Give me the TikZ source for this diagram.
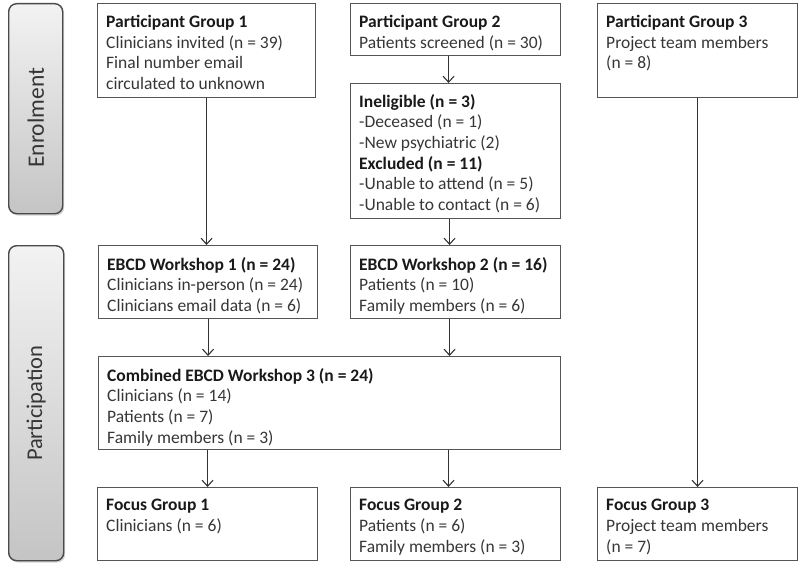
\documentclass[tikz,border=0pt]{standalone}
\usepackage{fontspec}
\setmainfont{Carlito}
\usetikzlibrary{arrows.meta,shadows}

\definecolor{edgegray}{HTML}{555555}
\definecolor{inkgray}{HTML}{363636}
\definecolor{barline}{HTML}{4A4A4A}

\tikzset{
  panel/.style={draw=edgegray, line width=1.1pt, anchor=north west, inner sep=0pt},
  panelnote/.style={anchor=north west, inner xsep=9pt, inner ysep=0pt, align=left,
    text=inkgray, font=\fontsize{17.5}{20.7}\selectfont},
  phasebar/.style={draw=barline, line width=1.4pt, rounded corners=8pt, anchor=north west,
    inner sep=0pt, top color=black!5, bottom color=black!23,
    drop shadow={shadow xshift=1.5pt, shadow yshift=-1.8pt, opacity=.35}},
  phasename/.style={rotate=90, text=inkgray, font=\fontsize{22.5}{26}\selectfont},
  flow/.style={draw=black!80, line width=1.1pt, -{Straight Barb[length=6pt,width=11pt]}}
}
\newcommand{\hd}[1]{\textbf{\color{black!90}#1}}

\begin{document}
\begin{tikzpicture}[x=1pt,y=-1pt]
\useasboundingbox (0,0) rectangle (800,567);
% phase bars
\node[phasebar, minimum width=54pt, minimum height=210pt] (enr) at (8,3) {};
\node[phasename, font=\fontsize{23.5}{26}\selectfont] (enrt) at ([yshift=-9pt]enr.center) {Enrolment};
\node[phasebar, minimum width=55pt, minimum height=315pt] (par) at (8,245) {};
\node[phasename] (part) at (par.center) {Participation};
% enrolment boxes
\node[panel, minimum width=218pt, minimum height=94pt] (pg1) at (97,3) {};
\node[panelnote] (pg1t) at ([yshift=-12pt]pg1.north west)
  {\hd{Participant Group 1}\\Clinicians invited (n = 39)\\Final number email\\circulated to unknown};
\node[panel, minimum width=210pt, minimum height=52pt] (pg2) at (350,3) {};
\node[panelnote] (pg2t) at ([yshift=-12pt]pg2.north west)
  {\hd{Participant Group 2}\\Patients screened (n = 30)};
\node[panel, minimum width=210pt, minimum height=135pt] (inel) at (350,83) {};
\node[panelnote] (inelt) at ([yshift=-11pt]inel.north west)
  {\hd{Ineligible (n = 3)}\\-Deceased (n = 1)\\-New psychiatric (2)\\\hd{Excluded (n = 11)}\\-Unable to attend (n = 5)\\-Unable to contact (n = 6)};
\node[panel, minimum width=200pt, minimum height=94pt] (pg3) at (597,3) {};
\node[panelnote] (pg3t) at ([yshift=-12pt]pg3.north west)
  {\hd{Participant Group 3}\\Project team members\\{}(n = 8)};
% participation boxes
\node[panel, minimum width=219pt, minimum height=73pt] (ws1) at (98,245) {};
\node[panelnote] (ws1t) at ([yshift=-12pt]ws1.north west)
  {\hd{EBCD Workshop 1 (n = 24)}\\Clinicians in-person (n = 24)\\Clinicians email data (n = 6)};
\node[panel, minimum width=210pt, minimum height=73pt] (ws2) at (350,245) {};
\node[panelnote] (ws2t) at ([yshift=-12pt]ws2.north west)
  {\hd{EBCD Workshop 2 (n = 16)}\\Patients (n = 10)\\Family members (n = 6)};
\node[panel, minimum width=462pt, minimum height=93pt] (ws3) at (98,356) {};
\node[panelnote] (ws3t) at ([yshift=-12pt]ws3.north west)
  {\hd{Combined EBCD Workshop 3 (n = 24)}\\Clinicians (n = 14)\\Patients (n = 7)\\Family members (n = 3)};
\node[panel, minimum width=220pt, minimum height=73pt] (fg1) at (97,487) {};
\node[panelnote] (fg1t) at ([yshift=-12pt]fg1.north west)
  {\hd{Focus Group 1}\\Clinicians (n = 6)};
\node[panel, minimum width=210pt, minimum height=73pt] (fg2) at (350,487) {};
\node[panelnote] (fg2t) at ([yshift=-12pt]fg2.north west)
  {\hd{Focus Group 2}\\Patients (n = 6)\\Family members (n = 3)};
\node[panel, minimum width=200pt, minimum height=73pt] (fg3) at (597,487) {};
\node[panelnote] (fg3t) at ([yshift=-12pt]fg3.north west)
  {\hd{Focus Group 3}\\Project team members\\{}(n = 7)};
% arrows
\draw[flow] (pg1.south) -- (pg1.south |- ws1.north);
\draw[flow] ([xshift=-7pt]pg2.south) -- ([xshift=-7pt]inel.north);
\draw[flow] ([xshift=-6pt]inel.south) -- ([xshift=-6pt]ws2.north);
\draw[flow] (pg3.south) -- (fg3.north);
\draw[flow] (ws1.south) -- (ws1.south |- ws3.north);
\draw[flow] ([xshift=-6pt]ws2.south) -- ([xshift=-6pt]ws2.south |- ws3.north);
\draw[flow] (fg1.north |- ws3.south) -- (fg1.north);
\draw[flow] ([xshift=-7pt]fg2.north |- ws3.south) -- ([xshift=-7pt]fg2.north);
\end{tikzpicture}
\end{document}
